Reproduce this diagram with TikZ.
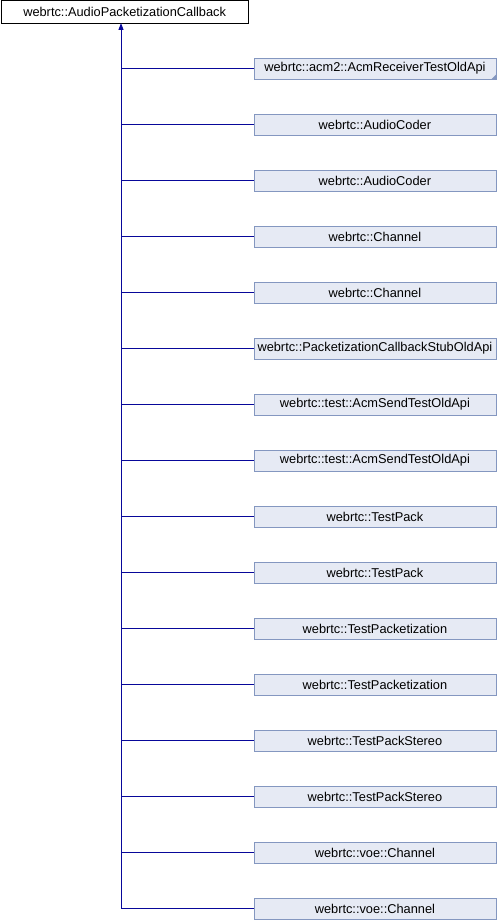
\documentclass[tikz,border=0pt]{standalone}
\usepackage{fontspec}
\setmainfont{Liberation Sans}
\usetikzlibrary{arrows.meta}
\definecolor{linkblue}{HTML}{08089A}
\definecolor{boxfill}{HTML}{E6EAF4}
\definecolor{boxedge}{HTML}{8497C0}
\tikzset{
  base/.style={draw=black, fill=white, line width=0.8pt, minimum width=247.5pt,
    minimum height=22.5pt, inner sep=0pt, font=\fontsize{12.8}{14}\selectfont, anchor=north west},
  derived/.style={draw=boxedge, fill=boxfill, line width=0.8pt, minimum width=242pt,
    minimum height=21pt, inner sep=0pt, font=\fontsize{12.8}{14}\selectfont, anchor=west},
  link/.style={draw=linkblue, line width=1pt},
  inherit/.style={link, -{Triangle[length=7pt,width=5pt]}},
}
\begin{document}
\begin{tikzpicture}[x=1pt,y=1pt]
\useasboundingbox (0,0) rectangle (496,-920);
\node[base] (top) at (0.5,-0.5) {webrtc::AudioPacketizationCallback};
\coordinate (trunk) at (121,-23);
\foreach \i/\name in {
  1/webrtc::acm2::AcmReceiverTestOldApi,
  2/webrtc::AudioCoder,
  3/webrtc::AudioCoder,
  4/webrtc::Channel,
  5/webrtc::Channel,
  6/webrtc::PacketizationCallbackStubOldApi,
  7/webrtc::test::AcmSendTestOldApi,
  8/webrtc::test::AcmSendTestOldApi,
  9/webrtc::TestPack,
  10/webrtc::TestPack,
  11/webrtc::TestPacketization,
  12/webrtc::TestPacketization,
  13/webrtc::TestPackStereo,
  14/webrtc::TestPackStereo,
  15/webrtc::voe::Channel,
  16/webrtc::voe::Channel}{
  \node[derived] (c\i) at (253.5,{-68.5-56*(\i-1)}) {\name};
  \draw[link] (c\i.west) -- (c\i.west -| trunk);
}
% marker for a class with further subclasses
\fill[boxedge] (c1.south east) -- ++(-5,0) -- ++(5,5) -- cycle;
\draw[inherit] (c16.west -| trunk) -- (trunk);
\end{tikzpicture}
\end{document}
